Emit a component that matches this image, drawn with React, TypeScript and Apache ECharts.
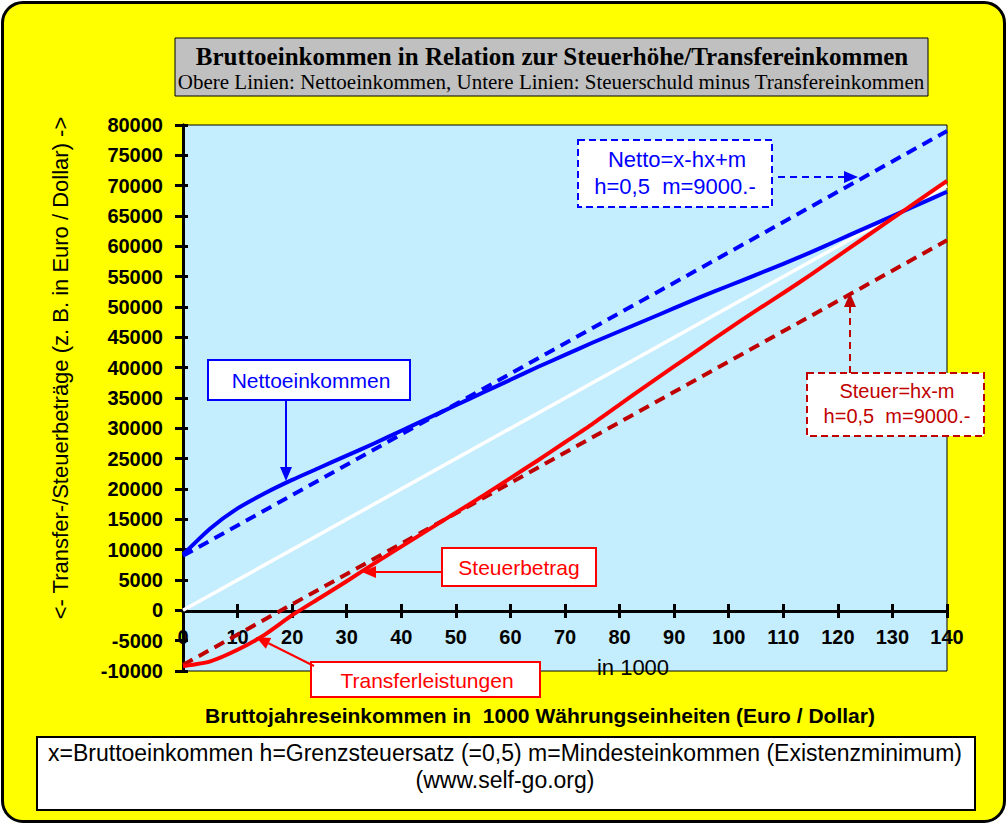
import React, { useEffect, useRef } from 'react';
import * as echarts from 'echarts';

// Bruttoeinkommen in 1000
const grossK = [0, 5, 10, 15, 20, 25, 30, 35, 40, 45, 50, 55, 60, 65, 70, 75, 80, 85, 90, 95, 100, 105, 110, 115, 120, 125, 130, 135, 140];
// Nettoeinkommen (blau, durchgezogen)
const nettoIncome = [9200, 13500, 16800, 19300, 21500, 23500, 25500, 27500, 29600, 31700, 33800, 35900, 38000, 40100, 42100, 44100, 46000, 47900, 49800, 51700, 53500, 55300, 57100, 59000, 61000, 63000, 65000, 67000, 69000];
// Steuerbetrag (rot, durchgezogen)
const taxAmount = [-9200, -8400, -6500, -4000, -800, 2000, 4800, 7700, 10500, 13300, 16100, 18900, 21800, 24700, 27700, 30700, 33900, 37100, 40200, 43300, 46400, 49400, 52300, 55300, 58400, 61500, 64600, 67700, 70800];
// Geraden (gestrichelt) und Diagonale
const lineX = [0, 140];
const nettoLinear = [9000, 79000];
const taxLinear = [-9000, 61000];
const halfLine = [0, 70000];

const yMin = -10000;
const yMax = 80000;
const yStep = 5000;
const xMin = 0;
const xMax = 140;
const xStep = 10;

const SANS = '"Liberation Sans", Arial, sans-serif';
const SERIF = '"Liberation Serif", "Times New Roman", serif';
const BLUE = '#0000FF';
const RED = '#FF0000';
const DARKRED = '#C00000';

const pairs = (xs: number[], ys: number[]) => xs.map((x, i) => [x, ys[i]]);

const arrow = (x1: number, y1: number, x2: number, y2: number, color: string, dashed: boolean) => {
  const a = Math.atan2(y2 - y1, x2 - x1);
  const len = 14;
  const w = 6;
  const bx = x2 - len * Math.cos(a);
  const by = y2 - len * Math.sin(a);
  return [
    {
      type: 'line',
      z: 100,
      shape: { x1, y1, x2: bx, y2: by },
      style: { stroke: color, lineWidth: 2, lineDash: dashed ? [7, 5] : null },
    },
    {
      type: 'polygon',
      z: 100,
      shape: {
        points: [
          [x2, y2],
          [bx + w * Math.sin(a), by - w * Math.cos(a)],
          [bx - w * Math.sin(a), by + w * Math.cos(a)],
        ],
      },
      style: { fill: color },
    },
  ];
};

const box = (x: number, y: number, width: number, height: number, stroke: string, dashed: boolean) => ({
  type: 'rect',
  z: 100,
  shape: { x, y, width, height },
  style: { fill: '#fff', stroke, lineWidth: 2, lineDash: dashed ? [7, 4] : null },
});

const label = (text: string, x: number, y: number, color: string, font: string) => ({
  type: 'text',
  z: 101,
  x,
  y,
  style: { text, fill: color, font, textAlign: 'center', textVerticalAlign: 'middle' },
});

const App: React.FC = () => {
  const chartRef = useRef<HTMLDivElement>(null);

  useEffect(() => {
    if (!chartRef.current) return;
    const chart = echarts.init(chartRef.current, null, { renderer: 'svg' });

    const axisLineBlack = { show: true, onZero: false, lineStyle: { color: '#000', width: 3 } };
    const yAxisBase = {
      type: 'value',
      gridIndex: 0,
      min: yMin,
      max: yMax,
      interval: yStep,
      position: 'left',
      splitLine: { show: false },
      axisLine: axisLineBlack,
    };
    // x-Achse mit Beschriftung sitzt auf der Nulllinie: eigenes Grid bis y = 0
    const xAxisZero = {
      type: 'value',
      gridIndex: 1,
      min: xMin,
      max: xMax,
      interval: xStep,
      position: 'bottom',
      splitLine: { show: false },
      axisLine: axisLineBlack,
    };

    const option = {
      animation: false,
      backgroundColor: 'transparent',
      grid: [
        {
          left: 183,
          top: 125,
          right: 60,
          bottom: 153,
          show: true,
          backgroundColor: '#C4EEFD',
          borderColor: '#000',
          borderWidth: 1,
        },
        {
          left: 183,
          top: 125,
          right: 60,
          bottom: 213,
          show: false,
        },
      ],
      xAxis: [
        {
          type: 'value',
          gridIndex: 0,
          min: xMin,
          max: xMax,
          interval: xStep,
          axisLine: { show: false },
          axisTick: { show: false },
          axisLabel: { show: false },
          splitLine: { show: false },
        },
        {
          ...xAxisZero,
          axisTick: { show: true, length: 7, lineStyle: { color: '#000', width: 3 } },
          axisLabel: {
            color: '#000',
            fontFamily: SANS,
            fontWeight: 'bold',
            fontSize: 20,
            margin: 16,
          },
        },
        {
          ...xAxisZero,
          axisTick: { show: true, inside: true, length: 7, lineStyle: { color: '#000', width: 3 } },
          axisLabel: { show: false },
        },
      ],
      yAxis: [
        {
          ...yAxisBase,
          axisTick: { show: true, length: 8, lineStyle: { color: '#000', width: 3 } },
          axisLabel: {
            color: '#000',
            fontFamily: SANS,
            fontWeight: 'bold',
            fontSize: 20,
            margin: 20,
            formatter: (v: number) => String(v),
          },
        },
        {
          ...yAxisBase,
          axisTick: { show: true, inside: true, length: 5, lineStyle: { color: '#000', width: 3 } },
          axisLabel: { show: false },
        },
        {
          type: 'value',
          gridIndex: 1,
          min: 0,
          max: 1,
          show: false,
        },
      ],
      series: [
        {
          name: 'Diagonale',
          type: 'line',
          showSymbol: false,
          data: pairs(lineX, halfLine),
          lineStyle: { color: '#fff', width: 3.5 },
          z: 2,
        },
        {
          name: 'Netto=x-hx+m',
          type: 'line',
          showSymbol: false,
          data: pairs(lineX, nettoLinear),
          lineStyle: { color: BLUE, width: 4, type: [11, 7] },
          z: 3,
        },
        {
          name: 'Steuer=hx-m',
          type: 'line',
          showSymbol: false,
          data: pairs(lineX, taxLinear),
          lineStyle: { color: DARKRED, width: 4, type: [11, 7] },
          z: 3,
        },
        {
          name: 'Nettoeinkommen',
          type: 'line',
          showSymbol: false,
          smooth: 0.2,
          data: pairs(grossK, nettoIncome),
          lineStyle: { color: BLUE, width: 4, join: 'round' },
          z: 4,
        },
        {
          name: 'Steuerbetrag',
          type: 'line',
          showSymbol: false,
          smooth: 0.2,
          data: pairs(grossK, taxAmount),
          lineStyle: { color: RED, width: 4, join: 'round' },
          z: 4,
        },
      ],
      graphic: [
        // Titelbox
        {
          type: 'rect',
          shape: { x: 175, y: 38, width: 753, height: 58 },
          style: { fill: '#C0C0C0', stroke: '#000', lineWidth: 1 },
        },
        label('Bruttoeinkommen in Relation zur Steuerhöhe/Transfereinkommen', 552, 56, '#000', `bold 25px ${SERIF}`),
        label('Obere Linien: Nettoeinkommen, Untere Linien: Steuerschuld minus Transfereinkommen', 551, 82, '#000', `21px ${SERIF}`),
        // Achsentitel
        {
          type: 'text',
          x: 60,
          y: 368,
          rotation: Math.PI / 2,
          style: {
            text: '<- Transfer-/Steuerbeträge (z. B. in Euro / Dollar) ->',
            fill: '#000',
            font: `22px ${SANS}`,
            textAlign: 'center',
            textVerticalAlign: 'middle',
          },
        },
        label('in 1000', 633, 667, '#000', `22px ${SANS}`),
        label('Bruttojahreseinkommen in  1000 Währungseinheiten (Euro / Dollar)', 540, 715, '#000', `bold 21px ${SANS}`),
        // Fußbox
        {
          type: 'rect',
          shape: { x: 37, y: 737, width: 938, height: 73 },
          style: { fill: '#fff', stroke: '#000', lineWidth: 2 },
        },
        label('x=Bruttoeinkommen h=Grenzsteuersatz (=0,5) m=Mindesteinkommen (Existenzminimum)', 505, 753, '#000', `23px ${SANS}`),
        label('(www.self-go.org)', 505, 780, '#000', `23px ${SANS}`),
        // Nettoeinkommen
        box(208, 360, 202, 40, BLUE, false),
        label('Nettoeinkommen', 311, 380, BLUE, `21px ${SANS}`),
        ...arrow(286, 400, 286, 481, BLUE, false),
        // Netto-Formel
        box(578, 140, 194, 67, BLUE, true),
        label('Netto=x-hx+m', 677, 159, BLUE, `22px ${SANS}`),
        label('h=0,5  m=9000.-', 675, 186, BLUE, `22px ${SANS}`),
        ...arrow(778, 177, 858, 177, BLUE, true),
        // Steuer-Formel
        box(807, 373, 177, 63, DARKRED, true),
        label('Steuer=hx-m', 897, 391, DARKRED, `20px ${SANS}`),
        label('h=0,5  m=9000.-', 897, 416, DARKRED, `20px ${SANS}`),
        ...arrow(850, 373, 850, 293, DARKRED, true),
        // Steuerbetrag
        box(442, 548, 154, 38, RED, false),
        label('Steuerbetrag', 519, 567, RED, `21px ${SANS}`),
        ...arrow(442, 572, 362, 572, RED, false),
        // Transferleistungen
        box(311, 662, 229, 35, RED, false),
        label('Transferleistungen', 427, 680, RED, `21px ${SANS}`),
        ...arrow(314, 666, 256, 637, RED, false),
      ],
    };

    chart.setOption(option);

    return () => {
      chart.dispose();
    };
  }, []);

  return (
    <div style={{ position: 'fixed', left: 0, top: 0, width: 1007, height: 824, background: '#fff' }}>
      <div
        style={{
          position: 'absolute',
          left: 1,
          top: 1,
          width: 1005,
          height: 822,
          boxSizing: 'border-box',
          background: '#FFFF00',
          border: '3px solid #000',
          borderRadius: 22,
        }}
      />
      <div ref={chartRef} style={{ position: 'absolute', left: 0, top: 0, width: 1007, height: 824 }} />
    </div>
  );
};

export default App;
